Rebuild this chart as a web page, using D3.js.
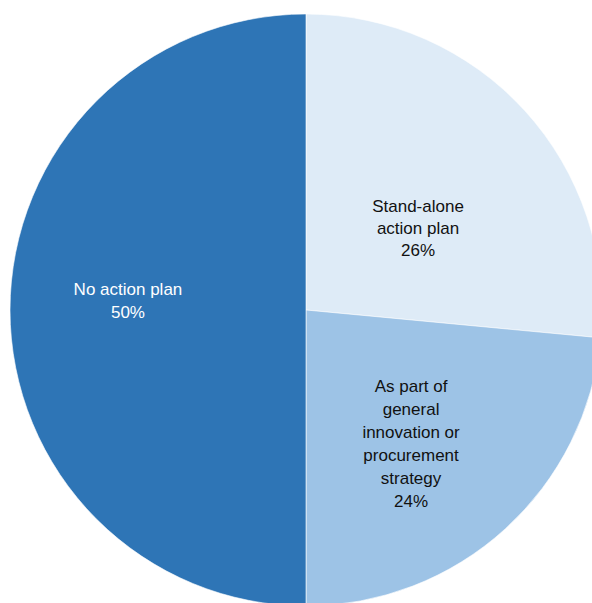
<!DOCTYPE html>
<html>
<head>
<meta charset="utf-8">
<script src="https://cdn.jsdelivr.net/npm/d3@7"></script>
<style>
  html, body { margin: 0; padding: 0; background: #fff; }
  svg { display: block; }
</style>
</head>
<body>
<svg id="chart" width="592" height="603"></svg>
<script>
// ---- data ----
const categories = ["Stand-alone action plan", "As part of general innovation or procurement strategy", "No action plan"];
const values = [26.5, 23.5, 50];
const valueLabels = ["26%", "24%", "50%"];
const labelLines = [
  ["Stand-alone", "action plan"],
  ["As part of", "general", "innovation or", "procurement", "strategy"],
  ["No action plan"]
];
const colors = ["#DEEBF7", "#9DC3E6", "#2E75B6"];
const textColors = ["#111", "#111", "#fff"];

// ---- layout ----
const cx = 306, cy = 310, r = 296;
// label anchor (block centre) as polar offset from pie centre, angle clockwise from top
const labelAnchor = [
  { angle: 53.8, dist: 138.8, lineH: 22 },
  { angle: 141.8, dist: 169.9, lineH: 23 },
  { angle: 273.05, dist: 178.3, lineH: 23 }
];

const svg = d3.select("#chart");
const g = svg.append("g").attr("transform", `translate(${cx},${cy})`);

const pie = d3.pie().sort(null).value(d => d.v);
const data = categories.map((c, i) => ({ c, v: values[i], i }));
const arcs = pie(data);
const arc = d3.arc().innerRadius(0).outerRadius(r);

g.selectAll("path.slice")
  .data(arcs)
  .join("path")
  .attr("class", "slice")
  .attr("d", arc)
  .attr("fill", d => colors[d.data.i])
  .attr("stroke", "#fff")
  .attr("stroke-width", 0.6);

arcs.forEach(d => {
  const i = d.data.i;
  const a = labelAnchor[i];
  const rad = a.angle * Math.PI / 180;
  const x = Math.sin(rad) * a.dist;
  const y = -Math.cos(rad) * a.dist;
  const lines = labelLines[i].concat([valueLabels[i]]);
  const t = g.append("text")
    .attr("text-anchor", "middle")
    .attr("font-family", "'Liberation Sans', Arial, sans-serif")
    .attr("font-size", 17)
    .attr("fill", textColors[i]);
  const y0 = y - (lines.length - 1) * a.lineH / 2;
  lines.forEach((ln, k) => {
    t.append("tspan").attr("x", x).attr("y", y0 + k * a.lineH + 6).text(ln);
  });
});
</script>
</body>
</html>
